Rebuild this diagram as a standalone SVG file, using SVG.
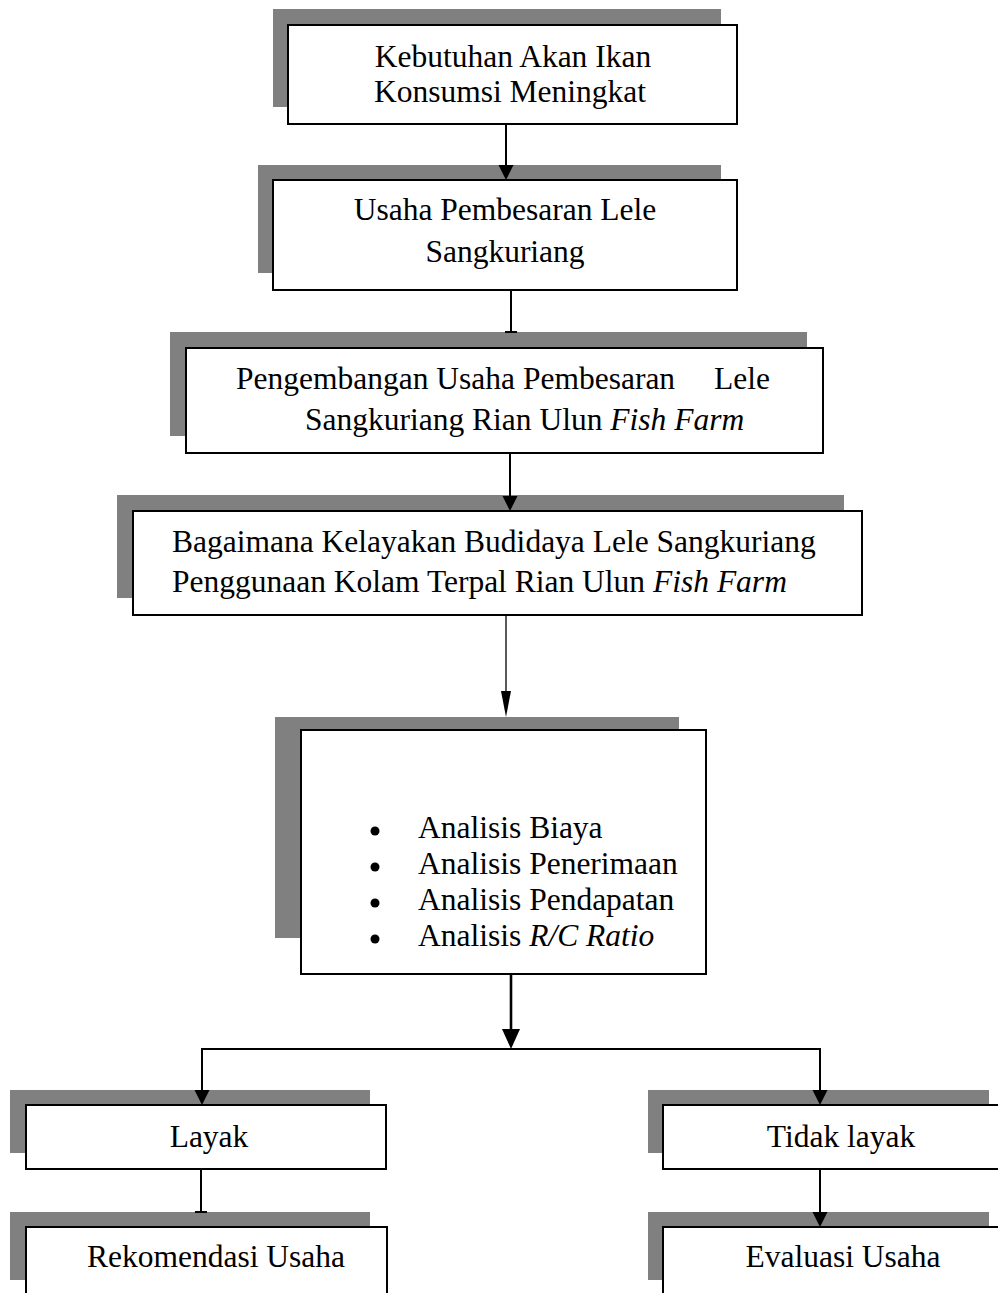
<svg xmlns="http://www.w3.org/2000/svg" width="998" height="1293" viewBox="0 0 998 1293">
<style>
.bg{fill:#ffffff}
.sh{fill:#808080}
.bx{fill:#ffffff;stroke:#000000;stroke-width:2}
.t{font-family:"Liberation Serif","Times New Roman",serif;font-size:31.5px;fill:#000000}
.c{text-anchor:middle}
.i{font-style:italic}
.ln{stroke:#000000;stroke-width:2;fill:none}
.thin{stroke-width:1.3}
.thick{stroke-width:2.6}
.ah{fill:#000000}
</style>
<rect class="bg" x="0" y="0" width="998" height="1293"/>
<g id="node-kebutuhan">
<rect class="sh" x="273" y="9" width="448" height="98"/>
<rect class="bx" x="288" y="25" width="449" height="99"/>
<text class="t c" x="513" y="67">Kebutuhan Akan Ikan</text>
<text class="t c" x="510" y="102">Konsumsi Meningkat</text>
</g>
<g id="node-usaha">
<rect class="sh" x="258" y="165" width="463" height="108"/>
<rect class="bx" x="273" y="180" width="464" height="110"/>
<text class="t c" x="505" y="220">Usaha Pembesaran Lele</text>
<text class="t c" x="505" y="262">Sangkuriang</text>
</g>
<g id="node-pengembangan">
<rect class="sh" x="170" y="332" width="637" height="104"/>
<rect class="bx" x="186" y="348" width="637" height="105"/>
<text class="t" x="236" y="389">Pengembangan Usaha Pembesaran<tspan x="714">Lele</tspan></text>
<text class="t" x="305" y="430">Sangkuriang Rian Ulun <tspan class="i">Fish Farm</tspan></text>
</g>
<g id="node-kelayakan">
<rect class="sh" x="117" y="495" width="727" height="103"/>
<rect class="bx" x="133" y="511" width="729" height="104"/>
<text class="t" x="172" y="552">Bagaimana Kelayakan Budidaya Lele Sangkuriang</text>
<text class="t" x="172" y="592">Penggunaan Kolam Terpal Rian Ulun <tspan class="i">Fish Farm</tspan></text>
</g>
<g id="node-analisis">
<rect class="sh" x="275" y="717" width="404" height="221"/>
<rect class="bx" x="301" y="730" width="405" height="244"/>
<circle cx="375" cy="831" r="4.5" class="ah"/>
<circle cx="375" cy="867" r="4.5" class="ah"/>
<circle cx="375" cy="903" r="4.5" class="ah"/>
<circle cx="375" cy="939" r="4.5" class="ah"/>
<text class="t" x="418" y="838">Analisis Biaya</text>
<text class="t" x="418" y="874">Analisis Penerimaan</text>
<text class="t" x="418" y="910">Analisis Pendapatan</text>
<text class="t" x="418" y="946">Analisis <tspan class="i">R/C Ratio</tspan></text>
</g>
<g id="node-layak">
<rect class="sh" x="10" y="1090" width="360" height="63"/>
<rect class="bx" x="26" y="1105" width="360" height="64"/>
<text class="t c" x="209" y="1147">Layak</text>
</g>
<g id="node-tidak-layak">
<rect class="sh" x="648" y="1090" width="341" height="63"/>
<rect class="bx" x="663" y="1105" width="342" height="64"/>
<text class="t c" x="841" y="1147">Tidak layak</text>
</g>
<g id="node-rekomendasi">
<rect class="sh" x="10" y="1212" width="360" height="68"/>
<rect class="bx" x="26" y="1227" width="361" height="80"/>
<text class="t" x="87" y="1267">Rekomendasi Usaha</text>
</g>
<g id="node-evaluasi">
<rect class="sh" x="648" y="1212" width="341" height="68"/>
<rect class="bx" x="663" y="1227" width="342" height="80"/>
<text class="t c" x="843" y="1267">Evaluasi Usaha</text>
</g>
<g id="connectors">
<line class="ln" x1="506" y1="124" x2="506" y2="168"/>
<polygon class="ah" points="498.5,165 513.5,165 506,180"/>
<line class="ln" x1="511" y1="290" x2="511" y2="333"/>
<rect class="ah" x="505" y="331" width="12" height="2"/>
<line class="ln" x1="510" y1="453" x2="510" y2="499"/>
<polygon class="ah" points="502.5,496 517.5,496 510,511"/>
<line class="ln thin" x1="506" y1="615" x2="506" y2="695"/>
<polygon class="ah" points="501,691 511,691 506,717"/>
<line class="ln thick" x1="511" y1="974" x2="511" y2="1032"/>
<polygon class="ah" points="502,1029 520,1029 511,1049"/>
<polyline class="ln" points="202,1094 202,1049 820,1049 820,1094"/>
<polygon class="ah" points="194.5,1090 209.5,1090 202,1105"/>
<polygon class="ah" points="812.5,1090 827.5,1090 820,1105"/>
<line class="ln" x1="201" y1="1169" x2="201" y2="1212"/>
<rect class="ah" x="195" y="1211" width="12" height="2"/>
<line class="ln" x1="820" y1="1169" x2="820" y2="1215"/>
<polygon class="ah" points="812.5,1212 827.5,1212 820,1227"/>
</g>
</svg>
